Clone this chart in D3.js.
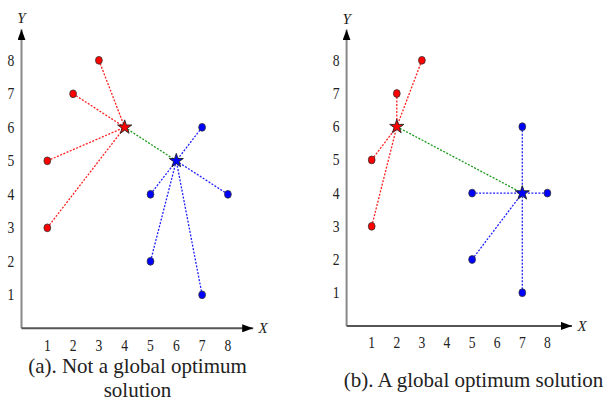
<!DOCTYPE html>
<html>
<head>
<meta charset="utf-8">
<script src="https://cdn.jsdelivr.net/npm/d3@7"></script>
<style>
  body { margin: 0; background: #fff; }
  text { font-family: "Liberation Serif", "Times New Roman", serif; fill: #222; }
</style>
</head>
<body>
<div id="chart"></div>
<script>
// data (grid coordinates)
const ticks = [1, 2, 3, 4, 5, 6, 7, 8];
const redPoints = [[3, 8], [2, 7], [1, 5], [1, 3]];
const bluePoints = [[7, 6], [5, 4], [8, 4], [5, 2], [7, 1]];
const redCenterA = [4, 6], blueCenterA = [6, 5];
const redCenterB = [2, 6], blueCenterB = [7, 4];
const captionA = ['(a). Not a global optimum', 'solution'];
const captionB = ['(b). A global optimum solution'];

const svg = d3.select('#chart').append('svg')
  .attr('width', 608).attr('height', 401);

svg.append('defs').append('marker')
  .attr('id', 'arrow')
  .attr('markerUnits', 'userSpaceOnUse')
  .attr('viewBox', '0 0 11 8')
  .attr('refX', 11).attr('refY', 4)
  .attr('markerWidth', 11).attr('markerHeight', 8)
  .attr('orient', 'auto')
  .append('path').attr('d', 'M0,0L11,4L0,8Z').attr('fill', '#000');

const panels = [
  { x0: 21.5, x1: 253.7, y0: 328.3, y1: 26.8, red: redCenterA, blue: blueCenterA,
    caption: captionA, capX: 137.5, capY: 373, xLab: 263, xLabY: 333, yLabY: 23 },
  { x0: 346.6, x1: 572.5, y0: 325.9, y1: 27.1, red: redCenterB, blue: blueCenterB,
    caption: captionB, capX: 473.5, capY: 387, xLab: 582, xLabY: 331, yLabY: 24 }
];

const star = d3.symbol().type(d3.symbolStar).size(62);

panels.forEach(p => {
  const x = d3.scaleLinear().domain([0, 9]).range([p.x0, p.x1]);
  const y = d3.scaleLinear().domain([0, 9]).range([p.y0, p.y1]);
  const g = svg.append('g');

  // axes with arrows
  g.append('line')
    .attr('x1', x(0)).attr('y1', y(0)).attr('x2', x(0)).attr('y2', y(8.93))
    .attr('stroke', '#888').attr('stroke-width', 2).attr('marker-end', 'url(#arrow)');
  g.append('line')
    .attr('x1', x(0)).attr('y1', y(0)).attr('x2', x(8.98)).attr('y2', y(0))
    .attr('stroke', '#555').attr('stroke-width', 2).attr('marker-end', 'url(#arrow)');

  g.selectAll('.yt').data(ticks).join('text')
    .attr('transform', d => `translate(${x(0) - 10.5},${y(d) + 5.5}) scale(0.85,1)`)
    .attr('text-anchor', 'middle').attr('font-size', 16)
    .text(d => d);
  g.selectAll('.xt').data(ticks).join('text')
    .attr('transform', d => `translate(${x(d)},${y(0) + 22.5}) scale(0.85,1)`)
    .attr('text-anchor', 'middle').attr('font-size', 16)
    .text(d => d);

  g.append('text').attr('x', x(0)).attr('y', p.yLabY)
    .attr('text-anchor', 'middle').attr('font-size', 15).attr('font-style', 'italic').text('Y');
  g.append('text').attr('x', p.xLab).attr('y', p.xLabY)
    .attr('text-anchor', 'middle').attr('font-size', 15).attr('font-style', 'italic').text('X');

  // dotted links
  const link = (pts, c, col) => g.selectAll(null).data(pts).join('line')
    .attr('x1', d => x(d[0])).attr('y1', d => y(d[1]))
    .attr('x2', x(c[0])).attr('y2', y(c[1]))
    .attr('stroke', col).attr('stroke-width', 1.3).attr('stroke-dasharray', '2,1.5');
  link(redPoints, p.red, '#ff2020');
  link(bluePoints, p.blue, '#2020ff');
  link([p.red], p.blue, '#1a9a1a');

  const dots = (pts, col) => g.selectAll(null).data(pts).join('ellipse')
    .attr('cx', d => x(d[0])).attr('cy', d => y(d[1]))
    .attr('rx', 3.4).attr('ry', 3.9)
    .attr('fill', col).attr('stroke', '#333').attr('stroke-width', 0.8);
  dots(redPoints, '#ff0000');
  dots(bluePoints, '#0000ff');

  g.selectAll(null).data([[p.red, '#ff0000'], [p.blue, '#0000ff']]).join('path')
    .attr('d', star)
    .attr('transform', d => `translate(${x(d[0][0])},${y(d[0][1])})`)
    .attr('fill', d => d[1]).attr('stroke', '#222').attr('stroke-width', 0.9);

  g.selectAll('.cap').data(p.caption).join('text')
    .attr('x', p.capX).attr('y', (d, i) => p.capY + i * 24)
    .attr('text-anchor', 'middle').attr('font-size', 21)
    .text(d => d);
});
</script>
</body>
</html>
